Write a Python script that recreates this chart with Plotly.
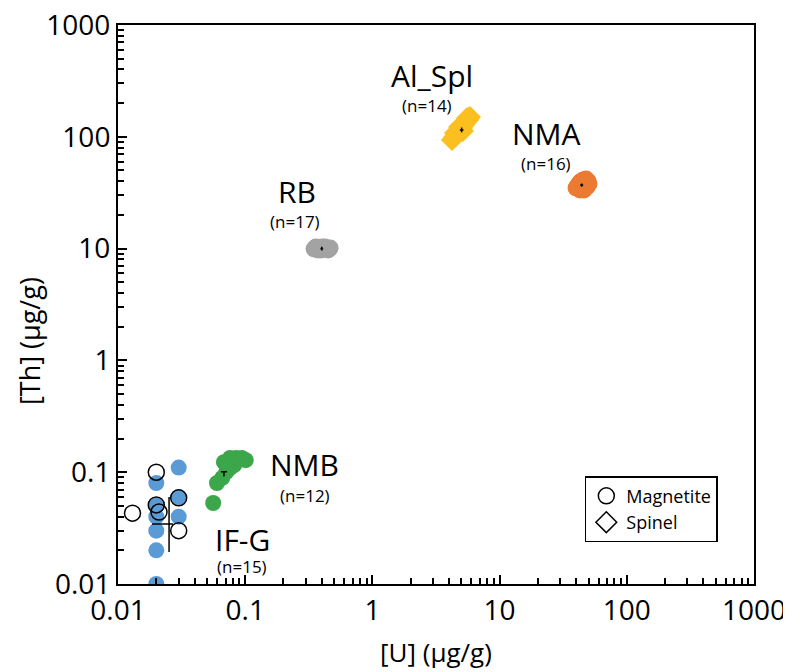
import numpy as np
import plotly.graph_objects as go

# ---------------- data ----------------
# IF-G (magnetite, blue filled)
ifg_u = [0.02, 0.02, 0.02, 0.02, 0.02, 0.02, 0.03, 0.03, 0.03]
ifg_th = [0.08, 0.05, 0.04, 0.03, 0.02, 0.01, 0.11, 0.06, 0.04]
# IF-G open circles
ifg_open_u = [0.02, 0.013, 0.02, 0.021, 0.03, 0.03]
ifg_open_th = [0.10, 0.043, 0.051, 0.044, 0.059, 0.030]
ifg_mean = (0.0252, 0.0344)
ifg_err_x = (0.0067, 0.0019)   # minus, plus
ifg_err_y = (0.0151, 0.0256)   # minus, plus

# NMB (green)
nmb_u = [0.056, 0.060, 0.066, 0.071, 0.076, 0.068, 0.076, 0.085, 0.094, 0.101, 0.082, 0.073]
nmb_th = [0.053, 0.080, 0.089, 0.100, 0.109, 0.123, 0.134, 0.134, 0.134, 0.128, 0.116, 0.121]
nmb_mean = (0.068, 0.101)

# RB (grey)
rb_u = [0.348, 0.360, 0.374, 0.387, 0.402, 0.416, 0.432, 0.448, 0.465, 0.367,
        0.395, 0.424, 0.456, 0.380, 0.409, 0.440, 0.354]
rb_th = [9.92, 10.33, 9.71, 10.12, 10.33, 9.92, 10.12, 9.71, 10.12, 9.92,
         9.71, 10.33, 9.92, 10.12, 9.92, 10.12, 10.12]
rb_mean = (0.40, 10.0)

# Al_Spl (yellow diamonds, spinel)
alspl_u = [4.22, 4.38, 4.54, 4.46, 4.71, 4.88, 5.06, 4.80, 5.25, 5.44, 5.65, 5.85, 5.55, 5.15]
alspl_th = [93.6, 99.5, 101.6, 108.1, 108.1, 115.0, 120.0, 122.5, 127.6, 135.6, 141.3, 150.3, 147.3, 112.7]
alspl_mean = (5.03, 115.0)

# NMA (orange)
nma_u = [39.9, 41.3, 42.9, 45.2, 47.8, 49.5, 50.4, 48.6, 46.1, 42.9, 40.6, 44.4, 46.9, 42.1, 45.2, 47.8]
nma_th = [34.8, 37.1, 39.4, 41.1, 41.9, 40.2, 37.8, 35.6, 33.4, 33.4, 35.6, 36.3, 38.6, 37.8, 34.8, 37.1]
nma_mean = (44.2, 37.0)

# group labels: (name, count text, x, y of name, y of count)
label_names = ["Al_Spl", "NMA", "RB", "NMB", "IF-G"]
label_counts = ["(n=14)", "(n=16)", "(n=17)", "(n=12)", "(n=15)"]
label_x = [2.94, 23.2, 0.255, 0.295, 0.0944]
label_count_x = [2.69, 23.2, 0.247, 0.295, 0.0944]
label_y = [350, 108, 32.1, 0.116, 0.0248]
label_count_y = [192, 58.3, 17.3, 0.0625, 0.0142]

tick_vals = [0.01, 0.1, 1, 10, 100, 1000]
tick_text = ["0.01", "0.1", "1", "10", "100", "1000"]
minor_mult = [2, 3, 4, 5, 6, 7, 8, 9]

FONT = "Open Sans"
BLUE = "#5b9bd5"
GREEN = "#3ba64a"
GREY = "#a3a3a3"
YELLOW = "#fbbf1f"
ORANGE = "#ec7a33"

fig = go.Figure()

def cloud(x, y, color, symbol="circle", size=16):
    fig.add_trace(go.Scatter(x=x, y=y, mode="markers", showlegend=False,
                             marker=dict(color=color, size=size, symbol=symbol,
                                         line=dict(width=0)), hoverinfo="skip"))

cloud(ifg_u, ifg_th, BLUE)
fig.add_trace(go.Scatter(x=ifg_open_u, y=ifg_open_th, mode="markers", showlegend=False,
                         marker=dict(color="rgba(0,0,0,0)", size=16, symbol="circle",
                                     line=dict(width=1.5, color="black"))))
cloud(nmb_u, nmb_th, GREEN)
cloud(rb_u, rb_th, GREY, size=17)
cloud(alspl_u, alspl_th, YELLOW, symbol="diamond", size=17)
cloud(nma_u, nma_th, ORANGE, size=17)

def cross(mean, ex, ey, w=1.5):
    fig.add_trace(go.Scatter(x=[mean[0]], y=[mean[1]], mode="markers", showlegend=False,
                             marker=dict(size=1, color="black"),
                             error_x=dict(type="data", symmetric=False, array=[ex[1]],
                                          arrayminus=[ex[0]], width=0, thickness=w, color="black"),
                             error_y=dict(type="data", symmetric=False, array=[ey[1]],
                                          arrayminus=[ey[0]], width=0, thickness=w, color="black")))

cross(ifg_mean, ifg_err_x, ifg_err_y)
cross(nmb_mean, (0.0036, 0.0038), (0.0097, 0.0))
cross(rb_mean, (0.01, 0.01), (0.4, 0.4))
cross(alspl_mean, (0.16, 0.17), (5.5, 6.0))
cross(nma_mean, (1.2, 1.2), (1.2, 1.2))

# legend entries
fig.add_trace(go.Scatter(x=[None], y=[None], mode="markers", name="Magnetite",
                         marker=dict(symbol="circle-open", size=18, color="black",
                                     line=dict(width=1.5))))
fig.add_trace(go.Scatter(x=[None], y=[None], mode="markers", name="Spinel",
                         marker=dict(symbol="diamond-open", size=20, color="black",
                                     line=dict(width=1.5))))

annotations = []
for name, cnt, lx, lcx, ly, lcy in zip(label_names, label_counts, label_x, label_count_x,
                                        label_y, label_count_y):
    annotations.append(dict(x=np.log10(lx), y=np.log10(ly), xref="x", yref="y", text=name,
                            showarrow=False, font=dict(size=30, color="black", family=FONT)))
    annotations.append(dict(x=np.log10(lcx), y=np.log10(lcy), xref="x", yref="y", text=cnt,
                            showarrow=False, font=dict(size=17, color="black", family=FONT)))

annotations.append(dict(x=0.5, y=-0.122, xref="paper", yref="paper", text="[U] (µg/g)",
                        showarrow=False, yanchor="middle",
                        font=dict(size=26, color="black", family=FONT)))
annotations.append(dict(x=-0.138, y=0.435, xref="paper", yref="paper", text="[Th] (µg/g)",
                        showarrow=False, textangle=-90, xanchor="center",
                        font=dict(size=27, color="black", family=FONT)))

minor_vals = [m * d for d in tick_vals[:-1] for m in minor_mult]

axis_common = dict(type="log", showgrid=False, zeroline=False, showline=True,
                   linecolor="black", linewidth=2, mirror=True, automargin=False,
                   ticklabeloverflow="allow",
                   ticks="inside", ticklen=9, tickwidth=1.5, tickcolor="black",
                   tickmode="array", tickvals=tick_vals, ticktext=tick_text,
                   tickfont=dict(size=28, color="black", family=FONT),
                   minor=dict(ticks="inside", ticklen=6, tickwidth=1.5, tickcolor="black",
                              tickmode="array", tickvals=minor_vals, showgrid=False))

# page body has an 8px margin, so the figure is drawn 8px smaller and offset
fig.update_layout(
    width=783, height=664,
    margin=dict(l=110, r=37, t=17, b=88),
    paper_bgcolor="white", plot_bgcolor="white",
    font=dict(family=FONT, color="black"),
    xaxis=dict(range=[-2, 3], **axis_common),
    yaxis=dict(range=[-2, 3], **axis_common),
    showlegend=True,
    legend=dict(x=0.734, y=0.193, xanchor="left", yanchor="top",
                bgcolor="white", bordercolor="black", borderwidth=1.5,
                font=dict(size=18, color="black", family=FONT),
                itemsizing="trace"),
    annotations=annotations,
)

fig.write_html("out.html")
